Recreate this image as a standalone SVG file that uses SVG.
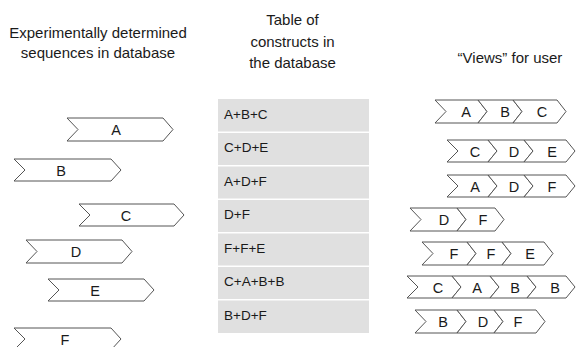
<svg xmlns="http://www.w3.org/2000/svg" width="576" height="347" viewBox="0 0 576 347">
<style>
.hd{font-family:"Liberation Sans",Arial,sans-serif;font-size:15px;fill:#1a1a1a;text-anchor:middle}
.lb{font-family:"Liberation Sans",Arial,sans-serif;font-size:14.5px;fill:#1a1a1a;text-anchor:middle}
.tb{font-family:"Liberation Sans",Arial,sans-serif;font-size:13.5px;fill:#1a1a1a}
.ch{fill:#ffffff;stroke:#555555;stroke-width:1;stroke-linejoin:miter}
.row{fill:#e0e0e0}
</style>
<rect width="576" height="347" fill="#ffffff"/>
<g id="headers">
<text class="hd" x="98" y="38">Experimentally determined</text>
<text class="hd" x="98" y="58">sequences in database</text>
<text class="hd" x="292.5" y="25">Table of</text>
<text class="hd" x="292.5" y="47">constructs in</text>
<text class="hd" x="292.5" y="68">the database</text>
<text class="hd" x="510" y="63">“Views” for user</text>
</g>
<g id="sequences">
<g id="seq-A"><polygon class="ch" points="67,118 163,118 173,129.5 163,141 67,141 78,129.5"/><text class="lb" x="116" y="135">A</text></g>
<g id="seq-B"><polygon class="ch" points="14,159 111,159 121,170 111,181 14,181 25,170"/><text class="lb" x="61" y="175.5">B</text></g>
<g id="seq-C"><polygon class="ch" points="79,204 174,204 184,215 174,226 79,226 90,215"/><text class="lb" x="126" y="220.5">C</text></g>
<g id="seq-D"><polygon class="ch" points="26,240 122,240 132,251.5 122,263 26,263 37,251.5"/><text class="lb" x="76" y="257">D</text></g>
<g id="seq-E"><polygon class="ch" points="48,279 144,279 154,290 144,301 48,301 59,290"/><text class="lb" x="95" y="295.5">E</text></g>
<g id="seq-F"><polygon class="ch" points="14,328 111,328 121,339 111,350 14,350 25,339"/><text class="lb" x="65" y="344.5">F</text></g>
</g>
<g id="table">
<rect class="row" x="218" y="99" width="151" height="32.5"/>
<rect class="row" x="218" y="133" width="151" height="32"/>
<rect class="row" x="218" y="166.5" width="151" height="32"/>
<rect class="row" x="218" y="200" width="151" height="32"/>
<rect class="row" x="218" y="233.5" width="151" height="32"/>
<rect class="row" x="218" y="267" width="151" height="32"/>
<rect class="row" x="218" y="300.5" width="151" height="32.5"/>
<text class="tb" x="224" y="118.5">A+B+C</text>
<text class="tb" x="224" y="152">C+D+E</text>
<text class="tb" x="224" y="185.5">A+D+F</text>
<text class="tb" x="224" y="219">D+F</text>
<text class="tb" x="224" y="252.5">F+F+E</text>
<text class="tb" x="224" y="286">C+A+B+B</text>
<text class="tb" x="224" y="319.5">B+D+F</text>
</g>
<g id="views">
<g id="view-1">
<polygon class="ch" points="435,100 478,100 487,111.5 478,123 435,123 446,111.5"/>
<polygon class="ch" points="478,100 513,100 522,111.5 513,123 478,123 487,111.5"/>
<polygon class="ch" points="513,100 557,100 566,111.5 557,123 513,123 522,111.5"/>
<text class="lb" x="466" y="117">A</text><text class="lb" x="505" y="117">B</text><text class="lb" x="542" y="117">C</text>
</g>
<g id="view-2">
<polygon class="ch" points="447,140 488,140 497,151 488,162 447,162 458,151"/>
<polygon class="ch" points="488,140 524,140 533,151 524,162 488,162 497,151"/>
<polygon class="ch" points="524,140 566,140 575,151 566,162 524,162 533,151"/>
<text class="lb" x="475" y="156.5">C</text><text class="lb" x="514" y="156.5">D</text><text class="lb" x="552" y="156.5">E</text>
</g>
<g id="view-3">
<polygon class="ch" points="447,175 488,175 497,186 488,197 447,197 458,186"/>
<polygon class="ch" points="488,175 524,175 533,186 524,197 488,197 497,186"/>
<polygon class="ch" points="524,175 566,175 575,186 566,197 524,197 533,186"/>
<text class="lb" x="475" y="191.5">A</text><text class="lb" x="514" y="191.5">D</text><text class="lb" x="552" y="191.5">F</text>
</g>
<g id="view-4">
<polygon class="ch" points="410,208 457,208 466,219.5 457,231 410,231 421,219.5"/>
<polygon class="ch" points="457,208 495,208 504,219.5 495,231 457,231 466,219.5"/>
<text class="lb" x="444" y="225">D</text><text class="lb" x="483" y="225">F</text>
</g>
<g id="view-5">
<polygon class="ch" points="422,242 467,242 476,253.5 467,265 422,265 433,253.5"/>
<polygon class="ch" points="467,242 502,242 511,253.5 502,265 467,265 476,253.5"/>
<polygon class="ch" points="502,242 544,242 553,253.5 544,265 502,265 511,253.5"/>
<text class="lb" x="454" y="259">F</text><text class="lb" x="491" y="259">F</text><text class="lb" x="530" y="259">E</text>
</g>
<g id="view-6">
<polygon class="ch" points="407,276 452,276 461,287 452,298 407,298 418,287"/>
<polygon class="ch" points="452,276 490,276 499,287 490,298 452,298 461,287"/>
<polygon class="ch" points="490,276 527,276 536,287 527,298 490,298 499,287"/>
<polygon class="ch" points="527,276 566,276 575,287 566,298 527,298 536,287"/>
<text class="lb" x="438" y="292.5">C</text><text class="lb" x="477" y="292.5">A</text><text class="lb" x="515" y="292.5">B</text><text class="lb" x="555" y="292.5">B</text>
</g>
<g id="view-7">
<polygon class="ch" points="415,310 457,310 466,321.5 457,333 415,333 426,321.5"/>
<polygon class="ch" points="457,310 494,310 503,321.5 494,333 457,333 466,321.5"/>
<polygon class="ch" points="494,310 536,310 545,321.5 536,333 494,333 503,321.5"/>
<text class="lb" x="443" y="327">B</text><text class="lb" x="483" y="327">D</text><text class="lb" x="518" y="327">F</text>
</g>
</g>
</svg>
